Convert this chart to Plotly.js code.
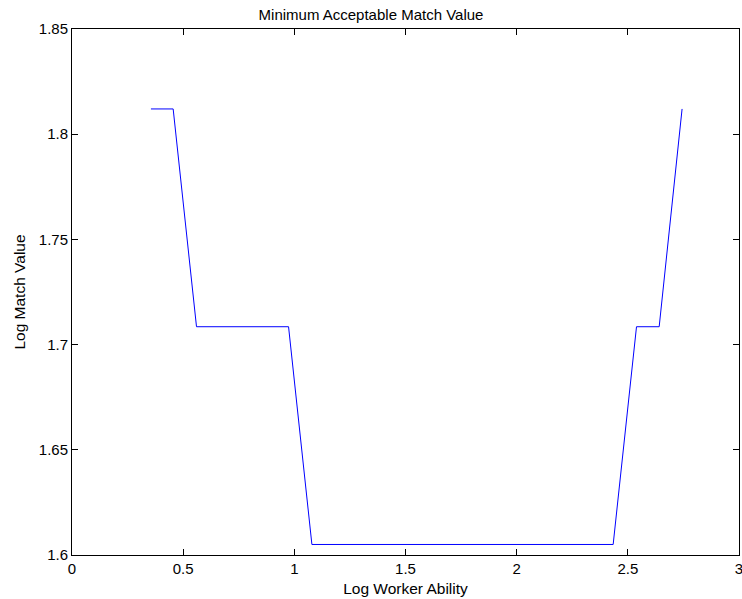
<!DOCTYPE html>
<html>
<head>
<meta charset="utf-8">
<script src="https://cdn.plot.ly/plotly-3.0.1.min.js"></script>
<style>html,body{margin:0;padding:0;background:#fff;}#chart{width:742px;height:599px;}</style>
</head>
<body>
<div id="chart"></div>
<script>
// Log worker ability (x) and minimum acceptable log match value (y)
var logAbility = [0.355, 0.455, 0.560, 0.974, 1.079, 2.434, 2.539, 2.641, 2.744];
var logMatchValue = [1.812, 1.812, 1.7085, 1.7085, 1.605, 1.605, 1.7085, 1.7085, 1.812];
var xTicks = [0, 0.5, 1, 1.5, 2, 2.5, 3];
var xTickText = ['0', '0.5', '1', '1.5', '2', '2.5', '3'];
var yTicks = [1.6, 1.65, 1.7, 1.75, 1.8, 1.85];
var yTickText = ['1.6', '1.65', '1.7', '1.75', '1.8', '1.85'];

var FONT = 'Liberation Sans, Arial, Helvetica, sans-serif';

var trace = {
  x: logAbility,
  y: logMatchValue,
  type: 'scatter',
  mode: 'lines',
  line: {color: '#0000ff', width: 1},
  hoverinfo: 'skip'
};

var axisCommon = {
  showline: true, linecolor: '#000', linewidth: 1, mirror: 'ticks',
  ticks: 'inside', ticklen: 6, tickcolor: '#000', tickwidth: 1,
  showgrid: false, zeroline: false, ticklabeloverflow: 'allow',
  tickfont: {family: FONT, size: 15, color: '#000'}
};

var layout = {
  width: 742, height: 599,
  margin: {l: 72, r: 3, t: 29, b: 44, pad: 0},
  paper_bgcolor: '#fff', plot_bgcolor: '#fff',
  showlegend: false,
  title: {text: 'Minimum Acceptable Match Value', x: 0.5, xanchor: 'center', y: 0.975, yanchor: 'middle',
          font: {family: FONT, size: 15, color: '#000'}},
  xaxis: Object.assign({}, axisCommon, {
    range: [0, 3], tickmode: 'array', tickvals: xTicks, ticktext: xTickText,
    title: {text: 'Log Worker Ability', standoff: 7, font: {family: FONT, size: 15.5, color: '#000'}}
  }),
  yaxis: Object.assign({}, axisCommon, {
    range: [1.6, 1.85], tickmode: 'array', tickvals: yTicks, ticktext: yTickText,
    title: {text: 'Log Match Value', standoff: 9, font: {family: FONT, size: 15.5, color: '#000'}}
  })
};

Plotly.newPlot('chart', [trace], layout, {staticPlot: true, displayModeBar: false});
</script>
</body>
</html>
